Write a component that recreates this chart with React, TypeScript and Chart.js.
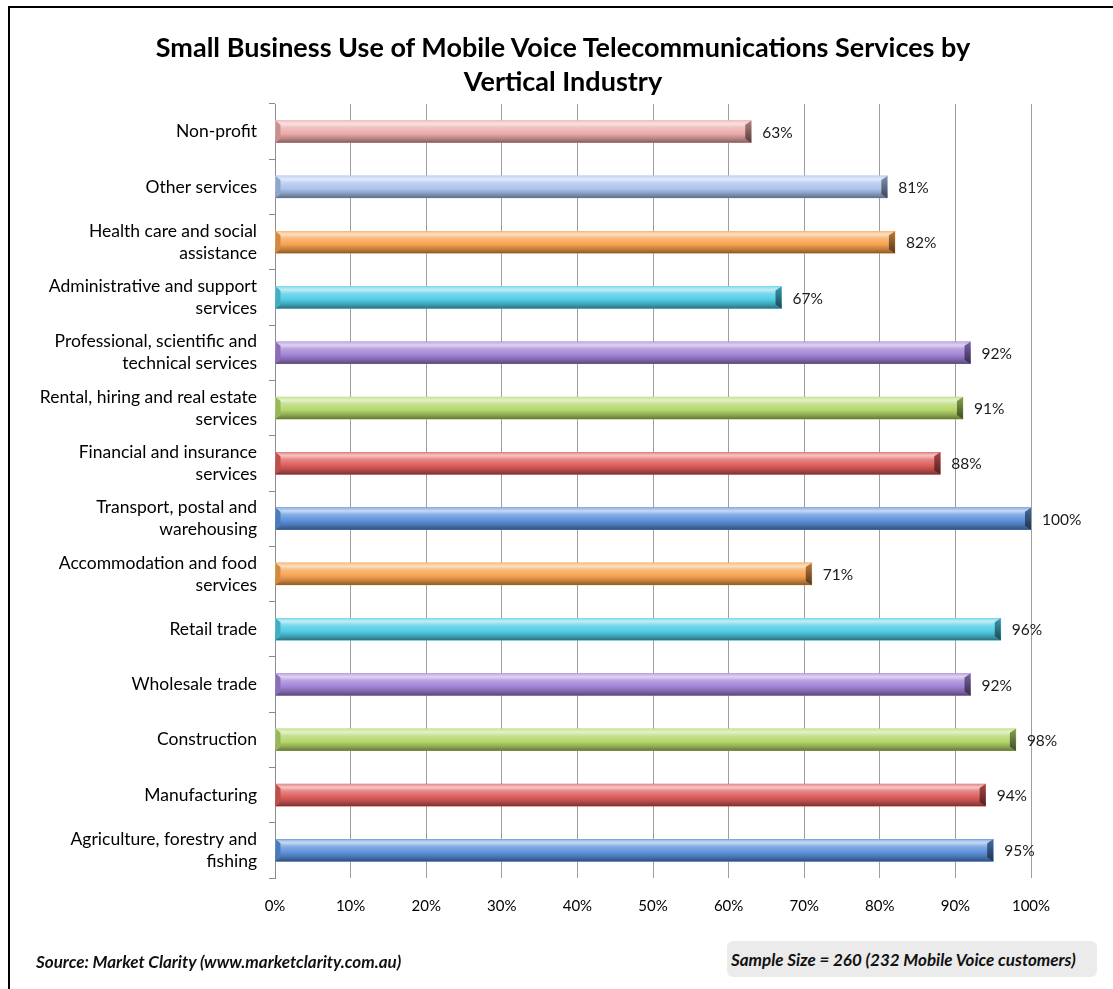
import React, { useEffect, useRef } from "react";
import { Chart, registerables } from "chart.js";

Chart.register(...registerables);

const titleLines = [
  "Small Business Use of Mobile Voice Telecommunications Services by",
  "Vertical Industry",
];

const categories: string[][] = [
  ["Non-profit"],
  ["Other services"],
  ["Health care and social", "assistance"],
  ["Administrative and support", "services"],
  ["Professional, scientific and", "technical services"],
  ["Rental, hiring and real estate", "services"],
  ["Financial and insurance", "services"],
  ["Transport, postal and", "warehousing"],
  ["Accommodation and food", "services"],
  ["Retail trade"],
  ["Wholesale trade"],
  ["Construction"],
  ["Manufacturing"],
  ["Agriculture, forestry and", "fishing"],
];

const values = [63, 81, 82, 67, 92, 91, 88, 100, 71, 96, 92, 98, 94, 95];

const barColors = [
  "#EBAAA9",
  "#A9C2EE",
  "#F7A24F",
  "#4FCCE6",
  "#A283D6",
  "#B3D66A",
  "#DE5D5B",
  "#5B91DB",
  "#F7A24F",
  "#4FCCE6",
  "#A283D6",
  "#B3D66A",
  "#DE5D5B",
  "#5B91DB",
];

const xTicks = [0, 10, 20, 30, 40, 50, 60, 70, 80, 90, 100];

const sourceText = "Source: Market Clarity (www.marketclarity.com.au)";
const sampleText = "Sample Size = 260 (232 Mobile Voice customers)";

function hexToRgb(h: string) {
  const n = parseInt(h.slice(1), 16);
  return [(n >> 16) & 255, (n >> 8) & 255, n & 255];
}
function mix(h: string, target: number, t: number) {
  const [r, g, b] = hexToRgb(h);
  const f = (c: number) => Math.round(c + (target - c) * t);
  return `rgb(${f(r)},${f(g)},${f(b)})`;
}

const BAR_H = 22;

export default function App() {
  const ref = useRef<HTMLCanvasElement | null>(null);

  useEffect(() => {
    if (!ref.current) return;
    const capPlugin = {
      id: "caps",
      afterDatasetsDraw(chart: any) {
        const ctx = chart.ctx;
        const meta = chart.getDatasetMeta(0);
        meta.data.forEach((bar: any, i: number) => {
          const { x, y, base } = bar.getProps(["x", "y", "base"], true);
          if (!Number.isFinite(x) || !Number.isFinite(y)) return;
          const top = y - BAR_H / 2;
          const bottom = y + BAR_H / 2;
          const col = barColors[i];
          ctx.save();
          const body = ctx.createLinearGradient(0, top, 0, bottom);
          body.addColorStop(0, mix(col, 255, 0.3));
          body.addColorStop(0.15, mix(col, 255, 0.65));
          body.addColorStop(0.32, mix(col, 255, 0.25));
          body.addColorStop(0.6, col);
          body.addColorStop(0.82, mix(col, 0, 0.22));
          body.addColorStop(1, mix(col, 0, 0.45));
          ctx.fillStyle = body;
          ctx.fillRect(base, top, x - base, BAR_H);
          // right bevel
          const g = ctx.createLinearGradient(0, top, 0, bottom);
          g.addColorStop(0, mix(col, 0, 0.25));
          g.addColorStop(0.5, mix(col, 0, 0.45));
          g.addColorStop(1, mix(col, 0, 0.65));
          ctx.fillStyle = g;
          ctx.beginPath();
          ctx.moveTo(x - 6, top + 4);
          ctx.lineTo(x, top);
          ctx.lineTo(x, bottom);
          ctx.lineTo(x - 6, bottom - 4);
          ctx.closePath();
          ctx.fill();
          // left bevel
          ctx.fillStyle = mix(col, 0, 0.15);
          ctx.beginPath();
          ctx.moveTo(base, top);
          ctx.lineTo(base + 5, top + 4);
          ctx.lineTo(base + 5, bottom - 4);
          ctx.lineTo(base, bottom);
          ctx.closePath();
          ctx.fill();
          // value label
          ctx.fillStyle = "#1a1a1a";
          ctx.font = "15.5px Lato";
          ctx.textAlign = "left";
          ctx.textBaseline = "middle";
          ctx.fillText(values[i] + "%", x + 11, y + 1);
          ctx.restore();
        });
      },
    };

    const chart = new Chart(ref.current, {
      type: "bar",
      data: {
        labels: categories,
        datasets: [
          {
            data: values,
            barThickness: BAR_H,
            borderWidth: 0,
            backgroundColor: barColors,
          },
        ],
      },
      options: {
        indexAxis: "y",
        responsive: false,
        animation: false,
        devicePixelRatio: 1,
        layout: { padding: { left: 0, right: 82, top: 104, bottom: 71 } },
        plugins: {
          legend: { display: false },
          tooltip: { enabled: false },
          title: { display: false },
        },
        scales: {
          x: {
            min: 0,
            max: 100,
            afterBuildTicks: (s: any) => {
              s.ticks = xTicks.map((v) => ({ value: v }));
            },
            ticks: {
              callback: (v: any) => v + "%",
              color: "#000",
              font: { family: "Lato", size: 15 },
              padding: 19,
              maxRotation: 0,
            },
            grid: { color: "#9e9e9e", drawTicks: false, lineWidth: 1 },
            border: { display: false },
            afterFit: (s: any) => {
              s.height = 40;
            },
          },
          y: {
            type: "category",
            grid: {
              offset: true,
              drawOnChartArea: false,
              tickLength: 6,
              color: "#8c8c8c",
            },
            border: { display: true, color: "#8c8c8c" },
            ticks: {
              color: "#000",
              font: { family: "Lato", size: 17.5, lineHeight: 1.26 },
              padding: 12,
            },
            afterFit: (s: any) => {
              s.width = 275;
            },
          },
        },
      } as any,
      plugins: [capPlugin],
    });
    return () => chart.destroy();
  }, []);

  return (
    <div
      style={{
        position: "fixed",
        left: 0,
        top: 0,
        width: 1113,
        height: 989,
        background: "#fff",
        overflow: "hidden",
      }}
    >
      <div
        style={{
          position: "absolute",
          left: 8,
          top: 6,
          width: 1105,
          height: 983,
          borderLeft: "2px solid #000",
          borderTop: "2px solid #000",
          boxSizing: "border-box",
        }}
      />
      <canvas
        ref={ref}
        width={1113}
        height={989}
        style={{ position: "absolute", left: 0, top: 0, width: 1113, height: 989 }}
      />
      <div
        style={{
          position: "absolute",
          left: 0,
          top: 30,
          width: 1126,
          textAlign: "center",
          fontFamily: "Lato",
          fontWeight: "bold",
          fontSize: 27,
          lineHeight: "34px",
          color: "#000",
        }}
      >
        <div>{titleLines[0]}</div>
        <div>{titleLines[1]}</div>
      </div>
      <div
        style={{
          position: "absolute",
          left: 36,
          top: 951,
          fontFamily: "Lato",
          fontStyle: "italic",
          fontWeight: "bold",
          fontSize: 17,
          lineHeight: "22px",
          color: "#111",
          whiteSpace: "nowrap",
        }}
      >
        {sourceText}
      </div>
      <div
        style={{
          position: "absolute",
          left: 727,
          top: 941,
          width: 370,
          height: 36,
          background: "#ebebeb",
          borderRadius: 6,
          fontFamily: "Lato",
          fontStyle: "italic",
          fontWeight: "bold",
          fontSize: 17,
          color: "#111",
          whiteSpace: "nowrap",
          display: "flex",
          alignItems: "center",
          paddingLeft: 4,
          boxSizing: "border-box",
        }}
      >
        {sampleText}
      </div>
    </div>
  );
}
